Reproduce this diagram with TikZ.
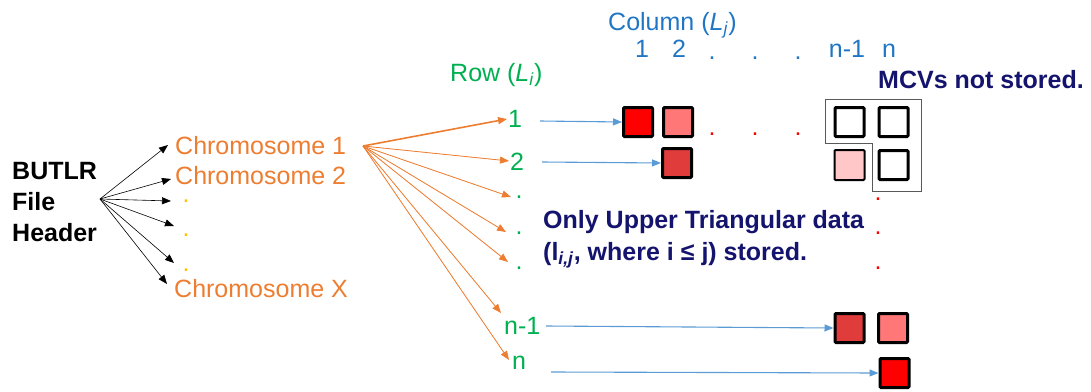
\documentclass[tikz,border=0pt]{standalone}
\usepackage{fontspec}
\setmainfont{Liberation Sans}
\usetikzlibrary{arrows.meta}
\definecolor{orng}{RGB}{237,125,49}
\definecolor{gld}{RGB}{255,192,0}
\definecolor{grn}{RGB}{0,176,80}
\definecolor{blu}{RGB}{32,118,196}
\definecolor{arrblu}{RGB}{91,155,213}
\definecolor{navy}{RGB}{20,20,110}
\definecolor{redA}{RGB}{255,0,0}
\definecolor{redB}{RGB}{255,119,119}
\definecolor{redC}{RGB}{224,60,60}
\definecolor{redD}{RGB}{255,199,199}
\begin{document}
\begin{tikzpicture}[x=1pt,y=-1pt,
  txt/.style={inner sep=0pt,font=\fontsize{25}{30}\selectfont},
  bld/.style={txt,font=\fontsize{25}{30}\selectfont\bfseries},
  dotn/.style={inner sep=0pt,font=\fontsize{25}{30}\selectfont},
  cell/.style={draw=black,line width=3pt,minimum size=29pt,inner sep=0pt,rounded corners=1pt},
  tip/.style={-{Triangle[length=9pt,width=7pt]}},
  blk/.style={tip,draw=black,line width=0.6pt},
  org/.style={tip,draw=orng,fill=orng,line width=0.8pt},
  bla/.style={tip,draw=arrblu,line width=1.1pt}]
\useasboundingbox (0,0) rectangle (1091,391);

% header
\node[bld,anchor=base west] (h1) at (12,179) {BUTLR};
\node[bld,anchor=base west] (h2) at (12,210) {File};
\node[bld,anchor=base west] (h3) at (12,241) {Header};
\coordinate (hs) at (100,199);

% chromosomes
\node[txt,text=orng,anchor=base west] (c1) at (175,154) {Chromosome 1};
\node[txt,text=orng,anchor=base west] (c2) at (175,184) {Chromosome 2};
\node[txt,text=orng,anchor=base west] (cx) at (174,297) {Chromosome X};
\node[dotn,text=gld] (cd1) at (186,201) {.};
\node[dotn,text=gld] (cd2) at (186,235) {.};
\node[dotn,text=gld] (cd3) at (186,270) {.};

\coordinate (t1) at (168,145);
\coordinate (t2) at (171,179);
\coordinate (t3) at (171,201);
\coordinate (t4) at (174,226);
\coordinate (t5) at (174,263);
\coordinate (t6) at (167,284);
\foreach \t in {t1,t2,t3,t4,t5,t6} \draw[blk] (hs) -- (\t);

% rows
\node[txt,text=grn,anchor=base west] (rowlab) at (450,81) {Row (\textit{L}\textsubscript{\textit{i}})};
\node[txt,text=grn,anchor=base west] (r1) at (508,127) {1};
\node[txt,text=grn,anchor=base west] (r2) at (510,170) {2};
\node[dotn,text=grn] (rd1) at (519,197) {.};
\node[dotn,text=grn] (rd2) at (519,233) {.};
\node[dotn,text=grn] (rd3) at (519,268) {.};
\node[txt,text=grn,anchor=base west] (rn1) at (504,334) {n-1};
\node[txt,text=grn,anchor=base west] (rn) at (512,369) {n};

\coordinate (os) at (363,146);
\coordinate (o1) at (507,119);
\coordinate (o2) at (509,161);
\coordinate (o3) at (511,197);
\coordinate (o4) at (506,232);
\coordinate (o5) at (508,262);
\coordinate (o6) at (501,313);
\coordinate (o7) at (509,360);
\draw[org,line width=1.6pt] (os) -- (o1);
\foreach \t in {o2,o3,o4,o5,o6,o7} \draw[org] (os) -- (\t);

% columns
\node[txt,text=blu,anchor=base west] (collab) at (608,30) {Column (\textit{L}\textsubscript{\textit{j}})};
\node[txt,text=blu,anchor=base] (k1) at (642,57) {1};
\node[txt,text=blu,anchor=base] (k2) at (679,57) {2};
\node[dotn,text=blu] (kd1) at (712,58) {.};
\node[dotn,text=blu] (kd2) at (755,58) {.};
\node[dotn,text=blu] (kd3) at (798,58) {.};
\node[txt,text=blu,anchor=base] (kn1) at (847,57) {n-1};
\node[txt,text=blu,anchor=base] (kn) at (889,57) {n};

% cells
\node[cell,fill=redA] (a11) at (638,122) {};
\node[cell,fill=redB] (a12) at (678,122) {};
\node[cell,fill=redC] (a22) at (677,163) {};
\node[cell,fill=white] (a1m) at (849.5,122) {};
\node[cell,fill=white] (a1n) at (893.5,122) {};
\node[cell,fill=redD,line width=2pt,minimum size=30pt] (a2m) at (849.5,165) {};
\node[cell,fill=white] (a2n) at (893.5,165) {};
\node[cell,fill=redC] (amm) at (849.5,328) {};
\node[cell,fill=redB] (amn) at (893,328) {};
\node[cell,fill=redA] (ann) at (894.5,373) {};

\draw[draw=black!65,line width=0.9pt] (825,99) -- (921,99) -- (921,191) -- (872,191) -- (872,143) -- (825,143) -- cycle;

% red dots
\node[dotn,text=redA] (rr1) at (712,134) {.};
\node[dotn,text=redA] (rr2) at (755,134) {.};
\node[dotn,text=redA] (rr3) at (798,134) {.};
\node[dotn,text=redA] (rv1) at (878,199) {.};
\node[dotn,text=redA] (rv2) at (878,233) {.};
\node[dotn,text=redA] (rv3) at (878,268) {.};

% blue arrows
\coordinate (b1) at (540,121);
\coordinate (b2) at (542,162);
\coordinate (b3) at (546,326);
\coordinate (b4) at (551,372);
\draw[bla] (b1) -- (a11.west);
\draw[bla] (b2) -- (a22.west);
\draw[bla] (b3) -- (amm.west);
\draw[bla] (b4) -- (ann.west);

% notes
\node[bld,text=navy,anchor=base west] (mcv) at (878,88) {MCVs not stored.};
\node[bld,text=navy,anchor=base west] (up1) at (543,228) {Only Upper Triangular data};
\node[bld,text=navy,anchor=base west] (up2) at (543,260) {(l\textsubscript{\textit{i,j}}, where i ≤ j) stored.};
\end{tikzpicture}
\end{document}
